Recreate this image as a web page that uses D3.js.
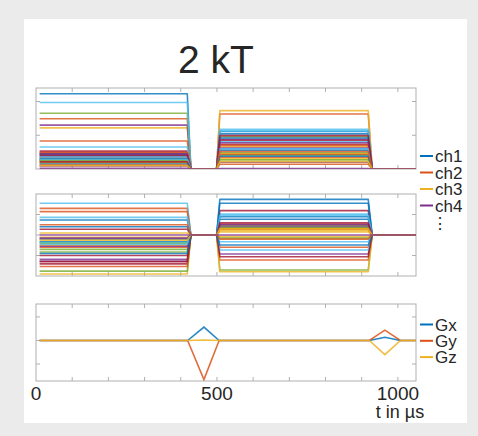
<!DOCTYPE html>
<html>
<head>
<meta charset="utf-8">
<script src="https://cdn.jsdelivr.net/npm/d3@7"></script>
<style>
  body { margin: 0; background: #ebebeb; }
  svg { display: block; font-family: "Liberation Sans", Arial, Helvetica, sans-serif; }
</style>
</head>
<body>
<div id="chart"></div>
<script>
// time grid of the two RF pulses (µs)
const rfTime = [10, 418, 428, 499, 508, 918, 929, 1050];
// per-channel amplitude of pulse 1 / pulse 2 (ch1..ch32)
const magPulse1 = [2.23, 1.49, 1.22, 1.30, 1.65, 1.97, 0.53, 0.385, 0.83, 0.24, 0.335, 0.29, 0.65, 0.47, 0.44, 0.49,
  0.32, 0.44, 0.20, 0.36, 0.40, 0.30, 0.25, 0.18, 0.09, 0.26, 0.28, 0.21, 0.15, 0.12, 0.10, 0.02];
const magPulse2 = [1.04, 1.63, 1.73, 0.88, 0.96, 1.18, 0.73, 1.11, 0.35, 0.66, 0.20, 0.48, 0.81, 0.85, 0.56, 0.14,
  0.30, 0.62, 0.41, 1.13, 0.44, 0.92, 0.70, 0.45, 0.78, 0.27, 0.60, 0.99, 0.38, 0.52, 0.22, 0.01];
// per-channel second component (middle panel)
const phPulse1 = [0.73, 1.30, -0.11, -1.19, -0.70, 1.55, 0.28, -0.33, 1.14, -0.50, -1.28, -0.83, 0.86, -1.41, -0.20, -0.60,
  -1.90, -0.15, -1.76, -0.37, -1.00, 0.40, -1.54, 0.10, -0.55, -0.40, -0.45, -1.30, -0.90, 0.50, -0.25, 0];
const phPulse2 = [1.74, 0.33, 0.21, 0.44, -1.71, 1.02, 1.19, 1.55, -0.60, -0.08, -0.93, 0.45, -0.33, 0.54, 0.89, -1.22,
  -1.79, 0.50, -0.15, -0.73, -1.06, 0.77, 0.28, 0.15, 0.38, 0.35, 0.95, 0.60, -0.49, -0.20, 0.30, 0];
// gradients
const gradTime = [10, 419, 464, 506, 921, 964, 1007, 1050];
const gx = [0, 0, 0.57, 0, 0, 0.14, 0, 0];
const gy = [0, 0, -1.66, 0, 0, 0.44, 0, 0];
const gz = [0, 0, 0.02, 0, 0, -0.6, 0, 0];
const gradNames = ['Gx', 'Gy', 'Gz'];
const chLegend = ['ch1', 'ch2', 'ch3', 'ch4'];
const xTicks = [0, 500, 1000];

const W = 478, H = 436;
const colors = ['#0072BD', '#D95319', '#EDB120', '#7E2F8E', '#77AC30', '#4DBEEE', '#A2142F'];
const axisCol = '#b0b0b0', textCol = '#262626';

const svg = d3.select('#chart').append('svg').attr('width', W).attr('height', H);

//white figure area
svg.append('rect').attr('x', 24).attr('y', 19).attr('width', 443).attr('height', 404).attr('fill', '#fff');

const x = d3.scaleLinear().domain([0, 1050]).range([36, 416]);

//panel definitions
const panels = [
  { y: d3.scaleLinear().domain([0, 2.4]).range([169, 88]), ticks: [1, 2] },
  { y: d3.scaleLinear().domain([-2, 2]).range([276, 194]), ticks: [-1, 0, 1] },
  { y: d3.scaleLinear().domain([-1.72, 1.55]).range([381, 304]), ticks: [-1, 0, 1] }
];

const line = (ys) => d3.line().x(d => x(d[0])).y(d => ys(d[1]));

panels.forEach((p, k) => {
  const g = svg.append('g');
  const [y0, y1] = p.y.range();
  g.append('clipPath').attr('id', 'clip' + k)
    .append('rect').attr('x', 36).attr('y', y1).attr('width', 380).attr('height', y0 - y1);
  //box
  g.append('rect').attr('x', 36).attr('y', y1).attr('width', 380).attr('height', y0 - y1)
    .attr('fill', 'none').attr('stroke', axisCol).attr('stroke-width', 1);
  //inward ticks on all four sides
  const tx = d3.range(100, 1050, 100);
  g.selectAll('.tt').data(tx).enter().append('line')
    .attr('x1', d => x(d)).attr('x2', d => x(d)).attr('y1', y1).attr('y2', y1 + 4)
    .attr('stroke', axisCol);
  g.selectAll('.tb').data(tx).enter().append('line')
    .attr('x1', d => x(d)).attr('x2', d => x(d)).attr('y1', y0).attr('y2', y0 - 4)
    .attr('stroke', axisCol);
  g.selectAll('.tl').data(p.ticks).enter().append('line')
    .attr('x1', 36).attr('x2', 40).attr('y1', d => p.y(d)).attr('y2', d => p.y(d))
    .attr('stroke', axisCol);
  g.selectAll('.tr').data(p.ticks).enter().append('line')
    .attr('x1', 416).attr('x2', 412).attr('y1', d => p.y(d)).attr('y2', d => p.y(d))
    .attr('stroke', axisCol);
  p.g = g.append('g').attr('clip-path', `url(#clip${k})`);
});

//RF channels
function drawChannels(p, v1, v2) {
  const series = v1.map((a, i) => {
    const b = v2[i];
    return rfTime.map((t, j) => [t, [a, a, 0, 0, b, b, 0, 0][j]]);
  });
  p.g.selectAll('path').data(series).enter().append('path')
    .attr('d', line(p.y))
    .attr('fill', 'none')
    .attr('stroke', (d, i) => colors[i % 7])
    .attr('stroke-opacity', 0.8)
    .attr('stroke-width', 1.6)
    .attr('stroke-linejoin', 'round');
}
drawChannels(panels[0], magPulse1, magPulse2);
drawChannels(panels[1], phPulse1, phPulse2);

//gradients
const grads = [gx, gy, gz].map(s => gradTime.map((t, j) => [t, s[j]]));
panels[2].g.selectAll('path').data(grads).enter().append('path')
  .attr('d', line(panels[2].y))
  .attr('fill', 'none')
  .attr('stroke', (d, i) => colors[i])
  .attr('stroke-opacity', 0.85)
  .attr('stroke-width', 1.6);

//title
svg.append('text').attr('x', 216).attr('y', 73).attr('text-anchor', 'middle')
  .attr('font-size', 39).attr('fill', textCol).text('2 kT');

//x tick labels
svg.selectAll('.xl').data(xTicks).enter().append('text')
  .attr('x', d => x(d)).attr('y', 400).attr('text-anchor', 'middle')
  .attr('font-size', 19).attr('fill', textCol).text(d => d);
svg.append('text').attr('x', 400).attr('y', 418).attr('text-anchor', 'middle')
  .attr('font-size', 18).attr('fill', textCol).text('t in µs');

//legends
function legend(names, y0, step) {
  const lg = svg.append('g');
  names.forEach((n, i) => {
    const yy = y0 + i * step;
    lg.append('line').attr('x1', 420).attr('x2', 433).attr('y1', yy).attr('y2', yy)
      .attr('stroke', colors[i]).attr('stroke-width', 2);
    lg.append('text').attr('x', 435).attr('y', yy + 6).attr('font-size', 17)
      .attr('fill', textCol).text(n);
  });
  return lg;
}
legend(chLegend, 156, 16.5);
svg.append('text').attr('x', 440).attr('y', 229).attr('text-anchor', 'middle')
  .attr('font-size', 16).attr('fill', textCol).text('⋮');
legend(gradNames, 324.5, 16.3);
</script>
</body>
</html>
